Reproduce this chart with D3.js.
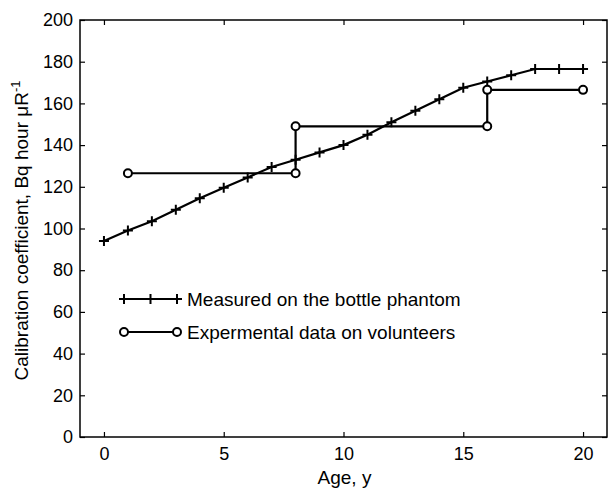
<!DOCTYPE html>
<html><head><meta charset="utf-8">
<script src="https://cdn.jsdelivr.net/npm/d3@7"></script>
<style>body{margin:0;background:#fff}svg{display:block}</style>
</head><body><svg id="c" width="609" height="488"></svg>
<script>
const ages = [0,1,2,3,4,5,6,7,8,9,10,11,12,13,14,15,16,17,18,19,20];
const phantom = [94,99,103.5,109,114.5,119.5,124.5,129.5,133,136.5,140,145,151,156.5,162,167.5,170.5,173.5,176.5,176.5,176.5];
const volAges = [1,8,8,16,16,20];
const volVals = [126.5,126.5,149,149,166.5,166.5];
const xTicks = [0,5,10,15,20];
const yTicks = [0,20,40,60,80,100,120,140,160,180,200];
const seriesNames = ["Measured on the bottle phantom","Expermental data on volunteers"];

const font = "Arial,'Liberation Sans',sans-serif";
const svg = d3.select("#c");
const L=80, R=607, T=20, B=437;
const x = d3.scaleLinear().domain([-1,21]).range([L,R]);
const y = d3.scaleLinear().domain([0,200]).range([B,T]);

const g = svg.append("g");
g.append("rect").attr("x",L).attr("y",T).attr("width",R-L).attr("height",B-T)
 .attr("fill","none").attr("stroke","#000").attr("stroke-width",1.5);

const axB = g.append("g").attr("transform",`translate(0,${B})`)
 .call(d3.axisBottom(x).tickValues(xTicks).tickSizeInner(-5).tickSizeOuter(0).tickPadding(10));
const axT = g.append("g").attr("transform",`translate(0,${T})`)
 .call(d3.axisTop(x).tickValues(xTicks).tickSizeInner(-5).tickSizeOuter(0).tickFormat(""));
const axL = g.append("g").attr("transform",`translate(${L},0)`)
 .call(d3.axisLeft(y).tickValues(yTicks).tickSizeInner(-5).tickSizeOuter(0).tickPadding(7));
const axR = g.append("g").attr("transform",`translate(${R},0)`)
 .call(d3.axisRight(y).tickValues(yTicks).tickSizeInner(-5).tickSizeOuter(0).tickFormat(""));
[axB,axT,axL,axR].forEach(a=>{
  a.select(".domain").remove();
  a.selectAll("line").attr("stroke","#000").attr("stroke-width",1.2);
  a.selectAll("text").attr("fill","#000").style("font-family",font).style("font-size","18px");
});

const line = d3.line().x(d=>x(d[0])).y(d=>y(d[1]));
const pData = ages.map((a,i)=>[a,phantom[i]]);
const vData = volAges.map((a,i)=>[a,volVals[i]]);

g.append("path").attr("d",line(pData)).attr("fill","none").attr("stroke","#000").attr("stroke-width",2.2);
g.append("path").attr("d",line(vData)).attr("fill","none").attr("stroke","#000").attr("stroke-width",2.2);

function plus(sel, px, py){
  sel.append("path").attr("d",`M${px-5},${py}H${px+5}M${px},${py-5}V${py+5}`)
   .attr("stroke","#000").attr("stroke-width",2);
}
function circ(sel, px, py){
  sel.append("circle").attr("cx",px).attr("cy",py).attr("r",4)
   .attr("fill","#fff").attr("stroke","#000").attr("stroke-width",2);
}
pData.forEach(d=>plus(g,x(d[0]),y(d[1])));
vData.forEach(d=>circ(g,x(d[0]),y(d[1])));

// legend
const lg = g.append("g");
const lx1=124, lx2=177, ly=[299,332];
lg.append("line").attr("x1",lx1).attr("x2",lx2).attr("y1",ly[0]).attr("y2",ly[0]).attr("stroke","#000").attr("stroke-width",2.2);
[lx1,(lx1+lx2)/2,lx2].forEach(px=>plus(lg,px,ly[0]));
lg.append("line").attr("x1",lx1).attr("x2",lx2).attr("y1",ly[1]).attr("y2",ly[1]).attr("stroke","#000").attr("stroke-width",2.2);
[lx1,lx2].forEach(px=>circ(lg,px,ly[1]));
seriesNames.forEach((n,i)=>{
  lg.append("text").attr("x",187).attr("y",ly[i]).attr("dy","0.36em")
   .style("font-family",font).style("font-size","19px").text(n);
});

// axis labels
svg.append("text").attr("x",(L+R)/2+1).attr("y",484).attr("text-anchor","middle")
 .style("font-family",font).style("font-size","19px").text("Age, y");
const yl = svg.append("text").attr("transform",`translate(28,${(T+B)/2+2}) rotate(-90)`)
 .attr("text-anchor","middle").style("font-family",font).style("font-size","19px");
yl.append("tspan").text("Calibration coefficient, Bq hour \u03BCR");
yl.append("tspan").attr("dy","-8").style("font-size","13px").text("-1");
</script></body></html>
